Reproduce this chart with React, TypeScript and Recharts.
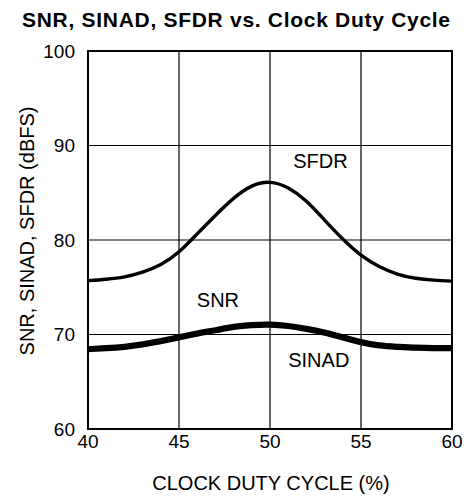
import React from 'react';
import { LineChart, Line, XAxis, YAxis, CartesianGrid, ReferenceArea, ReferenceDot, Label } from 'recharts';

const dutyCycle = [40, 41, 42, 43, 44, 45, 46, 47, 48, 49, 50, 51, 52, 53, 54, 55, 56, 57, 58, 59, 60];
const sfdrValues = [75.7, 75.85, 76.1, 76.6, 77.4, 78.75, 80.65, 82.6, 84.4, 85.7, 86.1, 85.5, 84.1, 82.1, 80.1, 78.4, 77.2, 76.4, 75.95, 75.75, 75.65];
const snrValues = [68.6, 68.7, 68.85, 69.1, 69.45, 69.85, 70.25, 70.6, 70.95, 71.15, 71.2, 71.05, 70.75, 70.35, 69.85, 69.35, 69.0, 68.85, 68.75, 68.7, 68.7];
const sinadValues = [68.3, 68.4, 68.55, 68.8, 69.15, 69.55, 69.95, 70.3, 70.65, 70.85, 70.9, 70.75, 70.45, 70.05, 69.55, 69.05, 68.7, 68.55, 68.45, 68.4, 68.4];

const xTicks = [40, 45, 50, 55, 60];
const yTicks = [60, 70, 80, 90, 100];

const title = 'SNR, SINAD, SFDR vs. Clock Duty Cycle';
const xLabel = 'CLOCK DUTY CYCLE (%)';
const yLabel = 'SNR, SINAD, SFDR (dBFS)';

const data = dutyCycle.map((d, i) => ({ d, sfdr: sfdrValues[i], snr: snrValues[i], sinad: sinadValues[i] }));

const FONT = '"Liberation Sans", Arial, Helvetica, sans-serif';

const annot = (text: string) => (props: any) => {
  const vb = props.viewBox || {};
  const cx = vb.x + (vb.width || 0) / 2;
  const cy = vb.y + (vb.height || 0) / 2;
  return (
    <text x={cx} y={cy} textAnchor="middle" dominantBaseline="central" fontFamily={FONT} fontSize={20} fill="#000">
      {text}
    </text>
  );
};

export default function App() {
  return (
    <div style={{ position: 'absolute', left: 0, top: 0, width: 466, height: 496, background: '#fff' }}>
      <svg style={{ position: 'absolute', left: 0, top: 0 }} width={466} height={40}>
        <text x={236} y={26.5} textAnchor="middle" fontFamily={FONT} fontWeight="bold" fontSize={21} textLength={428} lengthAdjust="spacing" fill="#000">
          {title}
        </text>
      </svg>
      <div style={{ position: 'absolute', left: 0, top: 0 }}>
        <LineChart width={466} height={496} data={data} margin={{ top: 51, right: 14, bottom: 0, left: 0 }}>
          <CartesianGrid stroke="#000" strokeWidth={1.2} strokeDasharray="" />
          <XAxis
            dataKey="d"
            type="number"
            domain={[40, 60]}
            ticks={xTicks}
            height={67}
            tickLine={false}
            axisLine={false}
            tickSize={0}
            tickMargin={6}
            tick={{ fill: '#000', fontSize: 19, fontFamily: FONT }}
          >
            <Label
              content={() => (
                <text x={271} y={490} textAnchor="middle" fontFamily={FONT} fontSize={20} fill="#000">
                  {xLabel}
                </text>
              )}
            />
          </XAxis>
          <YAxis
            type="number"
            domain={[60, 100]}
            ticks={yTicks}
            width={88}
            tickLine={false}
            axisLine={false}
            tickSize={0}
            tickMargin={13}
            tick={{ fill: '#000', fontSize: 19, fontFamily: FONT }}
          >
            <Label
              content={() => (
                <text x={27} y={231} transform="rotate(-90 27 231)" textAnchor="middle" dominantBaseline="central" fontFamily={FONT} fontSize={20} fill="#000">
                  {yLabel}
                </text>
              )}
            />
          </YAxis>
          <ReferenceArea x1={40} x2={60} y1={60} y2={100} fill="none" fillOpacity={0} stroke="#000" strokeWidth={2} />
          <Line type="natural" dataKey="sfdr" stroke="#000" strokeWidth={3.4} dot={false} isAnimationActive={false} />
          <Line type="natural" dataKey="snr" stroke="#000" strokeWidth={3.4} dot={false} isAnimationActive={false} />
          <Line type="natural" dataKey="sinad" stroke="#000" strokeWidth={3.4} dot={false} isAnimationActive={false} />
          <ReferenceDot x={52.77} y={88.35} r={0} fill="none" stroke="none" label={annot('SFDR')} />
          <ReferenceDot x={47.14} y={73.6} r={0} fill="none" stroke="none" label={annot('SNR')} />
          <ReferenceDot x={52.68} y={67.27} r={0} fill="none" stroke="none" label={annot('SINAD')} />
        </LineChart>
      </div>
    </div>
  );
}
